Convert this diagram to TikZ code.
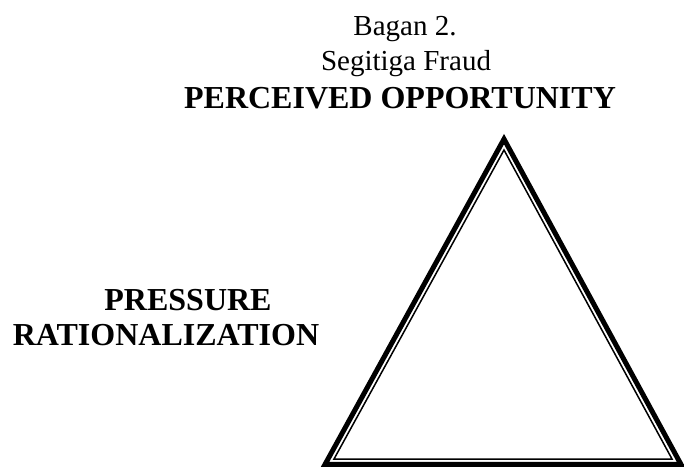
\documentclass[tikz,border=0pt]{standalone}
\usepackage{fontspec}
\setmainfont{Liberation Serif}

\begin{document}
\begin{tikzpicture}[x=1pt,y=-1pt,
    caption/.style={anchor=base,inner sep=0pt,font=\fontsize{29}{35}\selectfont},
    factor/.style={anchor=base,inner sep=0pt,font=\fontsize{32}{38}\selectfont\bfseries}]

    \useasboundingbox (0,0) rectangle (684,466);

    % Title
    \node [caption] (bagan) at (405,35) {Bagan 2.};
    \node [caption] (judul) at (406,70) {Segitiga Fraud};

    % Top factor
    \node [factor] (opportunity) at (400,108) {PERCEIVED OPPORTUNITY};

    % Left factors
    \node [factor] (pressure) at (188,310) {PRESSURE};
    \node [factor] (rationalization) at (166,345) {RATIONALIZATION};

    % Triangle: thick outer line, thin inner line
    \draw [line width=5pt] (504,139.1) -- (680.9,464.25) -- (325.1,464.25) -- cycle;
    \draw [line width=1.5pt] (504,150) -- (672,459) -- (334,459) -- cycle;

\end{tikzpicture}
\end{document}
